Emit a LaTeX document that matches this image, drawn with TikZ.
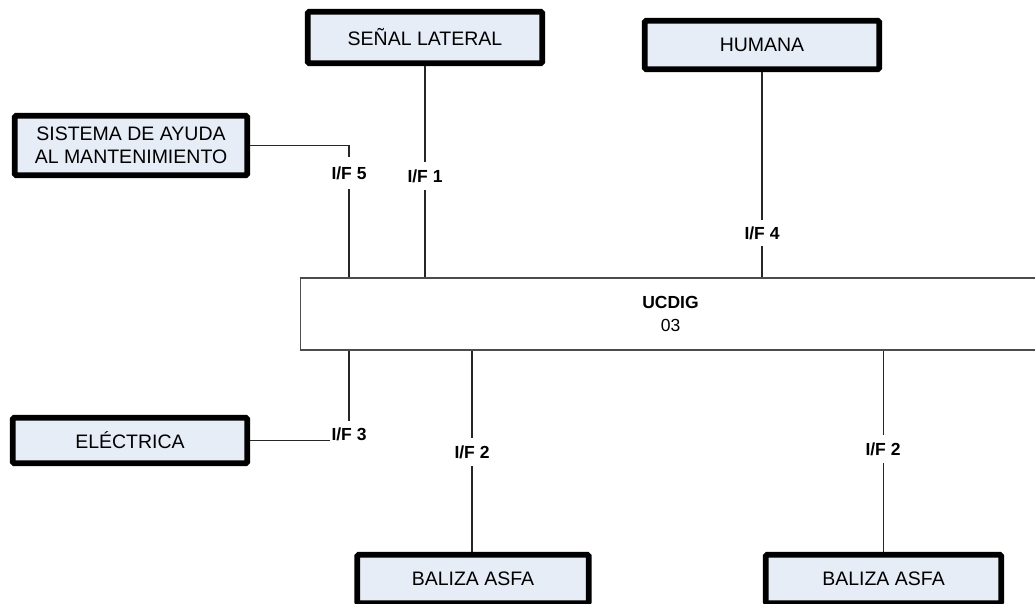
\documentclass[tikz,border=0pt]{standalone}
\usepackage{fontspec}
\setmainfont{Liberation Sans}
\begin{document}
\begin{tikzpicture}[x=1pt,y=-1pt,
  ext/.style={draw=black, line width=5.8pt, fill=boxfill, rounded corners=1.5pt,
    align=center, inner sep=0pt, font=\fontsize{19.5}{22.5}\selectfont},
  unit/.style={draw=black!70, line width=1.1pt, fill=white, align=center,
    inner sep=0pt, minimum width=740pt, minimum height=72pt,
    font=\fontsize{17.5}{23}\selectfont},
  wire/.style={draw=black!85, line width=1.1pt},
  iflbl/.style={fill=white, inner xsep=1pt, inner ysep=6pt,
    font=\bfseries\fontsize{17.5}{20}\selectfont}]
\definecolor{boxfill}{RGB}{230,237,247}
\useasboundingbox (0,0) rectangle (1035,603);
\clip (0,0) rectangle (1035,603);

% central unit
\node[unit] (ucdig) at (670.5,314) {\textbf{UCDIG}\\03};

% external systems
\node[ext, minimum width=234.5pt, minimum height=51.5pt] (senal) at (425,37.5) {SEÑAL LATERAL};
\node[ext, minimum width=234.5pt, minimum height=48.5pt] (humana) at (762,45) {HUMANA};
\node[ext, minimum width=232.5pt, minimum height=59.5pt] (sist) at (131,145.5) {SISTEMA DE AYUDA\\AL MANTENIMIENTO};
\node[ext, minimum width=234.5pt, minimum height=45.5pt] (elec) at (130,440.5) {ELÉCTRICA};
\node[ext, minimum width=231.5pt, minimum height=48.5pt] (bal1) at (473,579) {BALIZA ASFA};
\node[ext, minimum width=235.5pt, minimum height=48.5pt] (bal2) at (883.5,579) {BALIZA ASFA};

% attachment points on the left side of the unit
\coordinate (x5) at (349,0);

% interfaces
\draw[wire] (sist.east) -- (sist.east -| x5) -- (x5 |- ucdig.north);
\node[iflbl, inner ysep=9pt] (if5) at (349,173) {I/F 5};

\draw[wire] (senal.south) -- (senal.south |- ucdig.north);
\node[iflbl, inner ysep=7pt] (if1) at (425,176) {I/F 1};

\draw[wire] (humana.south) -- (humana.south |- ucdig.north);
\node[iflbl] (if4) at (762,233) {I/F 4};

\draw[wire] (elec.east) -- (elec.east -| x5) -- (x5 |- ucdig.south);
\node[iflbl, inner xsep=1.5pt] (if3) at (349,434) {I/F 3};

\draw[wire] (ucdig.south -| 472,0) -- (472,0 |- bal1.north);
\node[iflbl, inner ysep=7pt] (if2a) at (472,452) {I/F 2};

\draw[wire] (ucdig.south -| bal2.north) -- (bal2.north);
\node[iflbl, inner ysep=7pt] (if2b) at (883,449) {I/F 2};
\end{tikzpicture}
\end{document}
